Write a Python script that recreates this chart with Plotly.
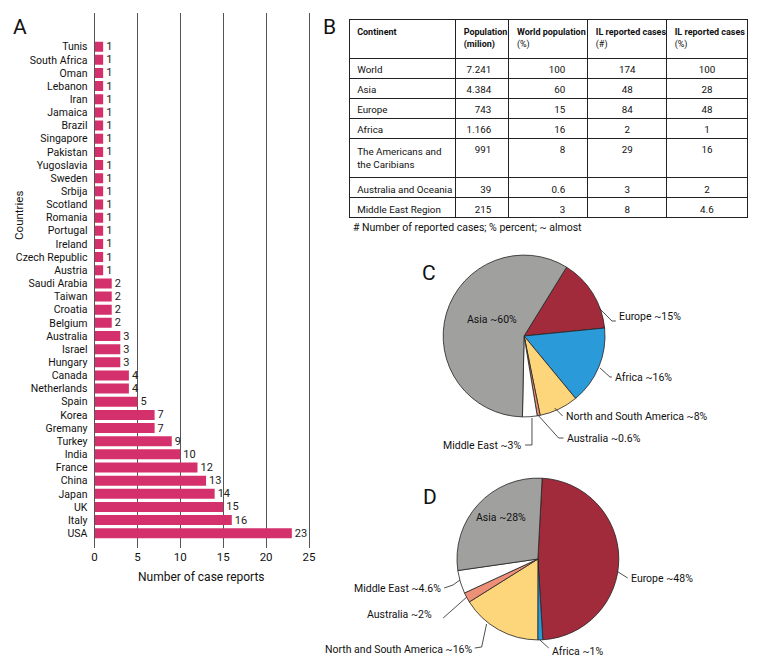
import plotly.graph_objects as go

# page is drawn with an 8px body margin; figure covers page pixels 8..760 / 8..664
OX, OY = 8, 8
FW, FH = 752, 656
FONT = "Roboto, DejaVu Sans Condensed, sans-serif"

# ---------------- Data ----------------
countries = ["Tunis", "South Africa", "Oman", "Lebanon", "Iran", "Jamaica", "Brazil",
             "Singapore", "Pakistan", "Yugoslavia", "Sweden", "Srbija", "Scotland",
             "Romania", "Portugal", "Ireland", "Czech Republic", "Austria",
             "Saudi Arabia", "Taiwan", "Croatia", "Belgium", "Australia", "Israel",
             "Hungary", "Canada", "Netherlands", "Spain", "Korea", "Gremany", "Turkey",
             "India", "France", "China", "Japan", "UK", "Italy", "USA"]
case_reports = [1, 1, 1, 1, 1, 1, 1, 1, 1, 1, 1, 1, 1, 1, 1, 1, 1, 1,
                2, 2, 2, 2, 3, 3, 3, 4, 4, 5, 7, 7, 9, 10, 12, 13, 14, 15, 16, 23]
x_ticks = [0, 5, 10, 15, 20, 25]

table_header = ["<b>Continent</b>", "<b>Population<br>(milion)</b>",
                "<b>World population</b><br>(%)", "<b>IL reported cases</b><br>(#)",
                "<b>IL reported cases</b><br>(%)"]
continent = ["World", "Asia", "Europe", "Africa", "The Americans and<br>the Caribians",
             "Australia and Oceania", "Middle East Region"]
population = ["7.241", "4.384", "743", "1.166", "991", "39", "215"]
world_pop_pct = ["100", "60", "15", "16", "8", "0.6", "3"]
il_cases = ["174", "48", "84", "2", "29", "3", "8"]
il_cases_pct = ["100", "28", "48", "1", "16", "2", "4.6"]
footnote = "# Number of reported cases; % percent; ~ almost"

pie_labels = ["Europe", "Africa", "North and South America", "Australia", "Middle East", "Asia"]
pie_colors = ["#A22B3B", "#2A9AD8", "#FDD57B", "#EE9077", "#FFFFFF", "#A0A09F"]
pop_share = [15, 16, 8, 0.6, 3, 60]
case_share = [48, 1, 16, 2, 4.6, 28]

# ---------------- helpers ----------------
def px(x, y):
    """page pixel -> paper coordinates"""
    return (x - OX) / FW, 1 - (y - OY) / FH

def path(points):
    s = ""
    for i, (x, y) in enumerate(points):
        X, Y = px(x, y)
        s += ("M" if i == 0 else " L") + f"{X:.5f},{Y:.5f}"
    return s

fig = go.Figure()

# ---------------- A: bar chart ----------------
fig.add_trace(go.Bar(
    x=case_reports, y=countries, orientation="h",
    marker=dict(color="#D4306B", line=dict(width=0)),
    text=[str(v) for v in case_reports], textposition="outside",
    textfont=dict(family=FONT, size=11, color="#222"), constraintext="none",
    cliponaxis=False, xaxis="x", yaxis="y", showlegend=False,
    hoverinfo="skip",
))

# ---------------- B: table ----------------
tx0, _ = px(350.7, 0)
tx1, _ = px(754.3, 0)
_, ty1 = px(0, 19.3)
pad_pop = "\u00a0" * 4
pad_wp = "\u00a0" * 6
# keep single-line names on one line (no automatic wrapping)
continent_cells = [c if "<br>" in c else c.replace(" ", "\u00a0") for c in continent]
fig.add_trace(go.Table(
    domain=dict(x=[tx0, tx1], y=[0.45, ty1]),
    columnwidth=[108, 54, 80, 80, 81.6],
    header=dict(values=table_header, align="left", height=33,
                line=dict(color="#222", width=1), fill=dict(color="white"),
                font=dict(family=FONT, size=9, color="#111")),
    cells=dict(values=[continent_cells,
                       [v + pad_pop for v in population],
                       [v + pad_wp for v in world_pop_pct],
                       il_cases, il_cases_pct],
               align=["left", "right", "right", "center", "center"], height=20,
               line=dict(color="#222", width=1), fill=dict(color="white"),
               font=dict(family=FONT, size=9.8, color="#111")),
))

# ---------------- C & D: pies ----------------
def pie_domain(cx, cy, r):
    x0, y0 = px(cx - r, cy + r)
    x1, y1 = px(cx + r, cy - r)
    return dict(x=[x0, x1], y=[y0, y1])

fig.add_trace(go.Pie(
    labels=pie_labels, values=pop_share, sort=False, direction="clockwise", rotation=31.7,
    marker=dict(colors=pie_colors, line=dict(color="#222", width=0.8)),
    textinfo="none", showlegend=False, domain=pie_domain(528, 336, 82), hoverinfo="skip",
))
fig.add_trace(go.Pie(
    labels=pie_labels, values=case_share, sort=False, direction="clockwise", rotation=3,
    marker=dict(colors=pie_colors, line=dict(color="#222", width=0.8)),
    textinfo="none", showlegend=False, domain=pie_domain(542, 559, 82), hoverinfo="skip",
))

def fmt(v):
    return f"{v:g}"

annotations = []
shapes = []

def label(text, x, y, anchor, size=10.5, angle=0):
    X, Y = px(x, y)
    annotations.append(dict(text=text, x=X, y=Y, xref="paper", yref="paper",
                            xanchor=anchor, yanchor="middle", showarrow=False,
                            textangle=angle,
                            font=dict(family=FONT, size=size, color="#111")))

def leader(points):
    shapes.append(dict(type="path", path=path(points), xref="paper", yref="paper",
                       line=dict(color="#222", width=0.8)))

# Pie C labels
c_txt = [f"{l} ~{fmt(v)}%" for l, v in zip(pie_labels, pop_share)]
label(c_txt[5], 495, 319, "center")
label(c_txt[0], 622, 316, "left"); leader([(604, 308), (617, 321), (621, 321)])
label(c_txt[1], 618, 377, "left"); leader([(605, 368), (615, 377), (617, 377)])
label(c_txt[2], 568, 416, "left"); leader([(559, 408), (567, 416)])
label(c_txt[3], 569, 438, "left"); leader([(542, 415), (563, 438), (568, 438)])
label(c_txt[4], 527, 445, "right"); leader([(529, 445), (536, 445), (536, 418)])

# Pie D labels
d_txt = [f"{l} ~{fmt(v)}%" for l, v in zip(pie_labels, case_share)]
label(d_txt[5], 505, 517, "center")
label(d_txt[0], 634, 578, "left"); leader([(622.5, 571.5), (633, 578)])
label(d_txt[1], 554, 651, "left"); leader([(544, 640), (553, 648)])
label(d_txt[4], 446, 588, "right"); leader([(447, 588), (456, 585), (463, 580)])
label(d_txt[3], 437, 614, "right"); leader([(446, 618), (470, 597)])
label(d_txt[2], 477, 649, "right"); leader([(478, 648), (485, 647), (490, 624)])

# Footnote, axis title, panel letters
label(footnote, 353, 227, "left")
label("Countries", 16, 215, "center", size=11.5, angle=-90)
label("Number of case reports", 201, 577, "center", size=12)
for letter, x, y in [("A", 17, 27), ("B", 331, 27), ("C", 432, 273), ("D", 433, 497)]:
    label(letter, x, y, "center", size=21)

ax0, ay0 = px(92.7, 548)
ax1, ay1 = px(310, 13)
fig.update_layout(
    width=FW, height=FH, margin=dict(l=0, r=0, t=0, b=0),
    paper_bgcolor="white", plot_bgcolor="white",
    bargap=0.24,
    xaxis=dict(domain=[ax0, ax1], range=[0, 25], tickvals=x_ticks,
               showgrid=True, gridcolor="#555", gridwidth=1, zeroline=False,
               showline=False, ticks="", tickfont=dict(family=FONT, size=11.5, color="#111"),
               fixedrange=True, anchor="y"),
    yaxis=dict(domain=[ay0, ay1], type="category",
               categoryorder="array", categoryarray=countries[::-1],
               tickmode="array", tickvals=countries, ticktext=countries,
               range=[-1.12, 39.56], showgrid=False, zeroline=False,
               showline=True, mirror=True, linecolor="#555", linewidth=1, ticks="",
               tickfont=dict(family=FONT, size=10.5, color="#111"), ticklabelstandoff=4,
               fixedrange=True, anchor="x"),
    annotations=annotations, shapes=shapes,
)

fig.write_html("out.html")
